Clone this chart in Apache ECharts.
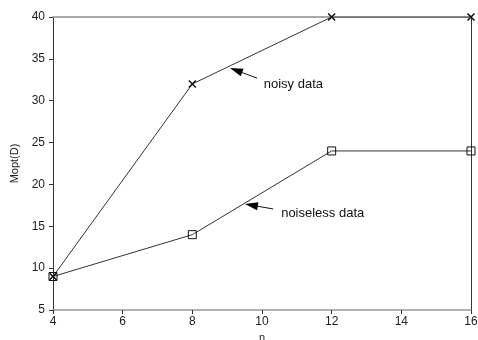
<!DOCTYPE html>
<html>
<head>
<meta charset="utf-8">
<script src="https://cdn.jsdelivr.net/npm/echarts@6/dist/echarts.min.js"></script>
<style>
    html, body { margin: 0; padding: 0; background: #fff; }
    #main { width: 478px; height: 340px; }
</style>
</head>
<body>
<div id="main"></div>
<script>
    // values
    const nValues = [4, 8, 12, 16];
    const noisyData = [9, 32, 40, 40];
    const noiselessData = [9, 14, 24, 24];
    const xTicks = { min: 4, max: 16, interval: 2 };
    const yTicks = { min: 5, max: 40, interval: 5 };

    // annotation anchors, in data units: [arrow tip, arrow tail, text start]
    const noisyNote = { label: 'noisy data', tip: [9.08, 33.9], tail: [9.86, 32.7], text: [10.05, 31.9] };
    const noiselessNote = { label: 'noiseless data', tip: [9.51, 17.66], tail: [10.32, 17.07], text: [10.55, 16.5] };

    const font = 'Liberation Sans, Arial, sans-serif';
    const crossPath = 'path://M0,0L10,10M10,0L0,10';

    function pairs(xs, ys) {
        return xs.map(function(x, i) { return [x, ys[i]]; });
    }

    let myChart = echarts.init(document.getElementById('main'), null, { renderer: 'canvas' });

    let option = {
        animation: false,
        backgroundColor: '#fff',
        grid: { left: 53, right: 7, top: 17, bottom: 30, outerBoundsMode: 'none', containLabel: false },
        xAxis: [
            {
                type: 'value',
                min: xTicks.min, max: xTicks.max, interval: xTicks.interval,
                name: 'n',
                nameLocation: 'middle',
                nameGap: 20,
                nameTextStyle: { color: '#222', fontFamily: font, fontSize: 11 },
                axisLine: { show: true, lineStyle: { color: '#999', width: 1.5 } },
                axisTick: { show: true, inside: false, length: 4, lineStyle: { color: '#333' } },
                axisLabel: { color: '#222', fontFamily: font, fontSize: 12, margin: 6 },
                splitLine: { show: false }
            },
            {
                type: 'value',
                position: 'top',
                min: xTicks.min, max: xTicks.max, interval: xTicks.interval,
                axisLine: { show: true, lineStyle: { color: '#aaa', width: 2 } },
                axisTick: { show: false },
                axisLabel: { show: false },
                splitLine: { show: false }
            }
        ],
        yAxis: [
            {
                type: 'value',
                min: yTicks.min, max: yTicks.max, interval: yTicks.interval,
                name: 'Mopt(D)',
                nameLocation: 'middle',
                nameGap: 28,
                nameRotate: 90,
                nameTextStyle: { color: '#222', fontFamily: font, fontSize: 11 },
                axisLine: { show: true, lineStyle: { color: '#333', width: 1 } },
                axisTick: { show: true, inside: false, length: 4, lineStyle: { color: '#333' } },
                axisLabel: { color: '#222', fontFamily: font, fontSize: 12, margin: 8 },
                splitLine: { show: false }
            },
            {
                type: 'value',
                position: 'right',
                min: yTicks.min, max: yTicks.max, interval: yTicks.interval,
                axisLine: { show: true, lineStyle: { color: '#333', width: 1 } },
                axisTick: { show: false },
                axisLabel: { show: false },
                splitLine: { show: false }
            }
        ],
        series: [
            {
                name: 'noiseless data',
                type: 'line',
                data: pairs(nValues, noiselessData),
                symbol: 'rect',
                symbolSize: 8,
                showAllSymbol: true,
                lineStyle: { color: '#333', width: 1 },
                itemStyle: { color: 'transparent', borderColor: '#111', borderWidth: 1 }
            },
            {
                name: 'noisy data',
                type: 'line',
                data: pairs(nValues, noisyData),
                symbol: crossPath,
                symbolSize: 7,
                showAllSymbol: true,
                lineStyle: { color: '#333', width: 1 },
                itemStyle: { color: 'none', borderColor: '#111', borderWidth: 1.5 }
            }
        ]
    };

    myChart.setOption(option);

    // arrows + labels, placed from data coords
    function note(n) {
        let tip = myChart.convertToPixel({ gridIndex: 0 }, n.tip);
        let tail = myChart.convertToPixel({ gridIndex: 0 }, n.tail);
        let txt = myChart.convertToPixel({ gridIndex: 0 }, n.text);
        let dx = tail[0] - tip[0], dy = tail[1] - tip[1];
        let len = Math.sqrt(dx * dx + dy * dy);
        let ux = dx / len, uy = dy / len;
        let headLen = 13, headW = 4;
        let bx = tip[0] + ux * headLen, by = tip[1] + uy * headLen;
        return [
            {
                type: 'line',
                shape: { x1: bx, y1: by, x2: tail[0], y2: tail[1] },
                style: { stroke: '#111', lineWidth: 1 }
            },
            {
                type: 'polygon',
                shape: { points: [tip, [bx - uy * headW, by + ux * headW], [bx + uy * headW, by - ux * headW]] },
                style: { fill: '#000' }
            },
            {
                type: 'text',
                x: txt[0], y: txt[1],
                style: {
                    text: n.label, fill: '#111', font: '13px ' + font,
                    textAlign: 'left', textVerticalAlign: 'middle'
                }
            }
        ];
    }

    myChart.setOption({ graphic: note(noisyNote).concat(note(noiselessNote)) });

    window.addEventListener('resize', myChart.resize);
</script>
</body>
</html>
